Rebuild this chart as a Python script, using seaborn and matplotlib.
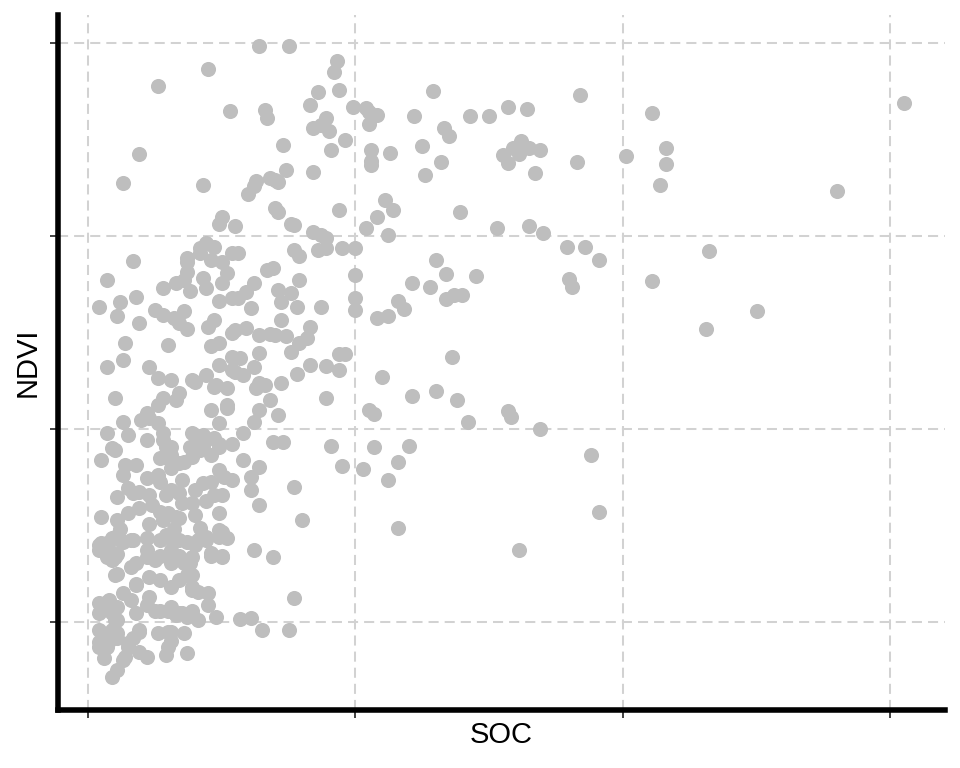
#import the libraries
import matplotlib
matplotlib.use("Agg")
import matplotlib.pyplot as plt
import seaborn as sns
import pandas as pd

#values (SOC on x, NDVI on y)
soc = [
    #sparse points on the right and middle
    3.05, 2.80, 2.50, 2.31, 2.32, 2.11, 2.11, 2.16, 2.16, 2.14, 2.01, 1.84, 1.83, 1.79, 1.86, 1.91, 1.80, 1.81, 1.88, 1.91,
    1.61, 1.69, 1.57, 1.58, 1.42, 1.38, 1.30, 1.36, 1.21, 1.20, 1.16, 1.12, 1.16, 1.03, 1.07, 1.05, 1.07, 1.10, 0.95, 0.91,
    0.89, 0.94, 0.96, 0.94, 0.89, 0.78, 0.77, 0.80, 0.77, 0.75, 0.65, 0.61, 0.57, 0.69, 0.62,
    #upper middle
    0.93, 0.92, 0.94, 0.86, 0.99, 1.04, 1.05, 1.08, 1.05, 0.89, 0.87, 0.84, 0.90, 0.83, 0.96, 0.91, 1.06, 1.13, 1.06, 1.06,
    1.22, 1.29, 1.33, 1.35, 1.25, 1.32, 1.26, 1.43, 1.50, 1.57, 1.64, 1.55, 1.59, 1.61, 1.62, 1.65, 1.69, 1.57, 1.67, 1.39,
    1.53, 1.65, 1.70, 1.45, 1.40, 1.37, 1.34, 1.30, 1.28, 1.34, 1.21, 1.16, 1.18, 1.12, 1.08, 1.00, 1.00, 1.00, 1.12, 1.04,
    1.08, 1.14, 1.11, 0.94, 0.87, 0.89, 0.84, 1.00, 0.95, 0.89, 0.86, 0.79, 0.77, 0.84, 0.74, 0.73, 0.66, 0.67, 0.64, 0.75,
    0.45, 0.26, 0.19, 0.13, 0.43, 0.53, 0.70, 0.68, 0.62, 0.60, 0.70, 0.71, 0.77, 0.76, 0.50, 0.55, 0.79, 0.87, 0.83, 0.74,
    0.76, 0.70, 0.68, 0.63, 0.71, 0.42, 0.37,
    #dense block, upper part
    0.17, 0.07, 0.04, 0.12, 0.11, 0.18, 0.19, 0.14, 0.13, 0.07, 0.23, 0.26, 0.31, 0.30, 0.25, 0.28, 0.32, 0.34, 0.37, 0.36,
    0.28, 0.33, 0.36, 0.38, 0.37, 0.37, 0.42, 0.44, 0.47, 0.46, 0.50, 0.54, 0.52, 0.43, 0.44, 0.50, 0.49, 0.54, 0.47, 0.45,
    0.46, 0.49, 0.54, 0.49, 0.54, 0.44, 0.40, 0.48, 0.54, 0.49,
    #dense block, around the 0.4-0.6 band
    0.67, 0.69, 0.56, 0.62, 0.59, 0.56, 0.61, 0.71, 0.72, 0.76, 0.78, 0.72, 0.79, 0.82, 0.83, 0.55, 0.59, 0.64, 0.64, 0.62,
    0.57, 0.55, 0.58, 0.64, 0.66, 0.72, 0.63, 0.68, 0.64, 0.62, 0.71, 0.52, 0.52, 0.49, 0.46, 0.47, 0.39, 0.34, 0.33, 0.22,
    0.20, 0.26, 0.28, 0.10, 0.13, 0.15, 0.07, 0.10, 0.28, 0.31, 0.39, 0.41, 0.42, 0.44, 0.49, 0.58, 0.69, 0.73,
    #dense block, middle
    0.05, 0.14, 0.18, 0.13, 0.22, 0.26, 0.15, 0.11, 0.19, 0.23, 0.19, 0.24, 0.27, 0.05, 0.11, 0.15, 0.12, 0.22, 0.23, 0.26,
    0.28, 0.29, 0.27, 0.31, 0.35, 0.31, 0.29, 0.34, 0.30, 0.28, 0.35, 0.39, 0.40, 0.43, 0.46, 0.49, 0.51, 0.47, 0.50, 0.44,
    0.49, 0.50, 0.33, 0.34, 0.36, 0.39, 0.38, 0.40, 0.43, 0.47, 0.52, 0.46, 0.49, 0.43, 0.54, 0.54,
    #dense block, bottom
    0.64, 0.61, 0.58, 0.64, 0.61, 0.49, 0.52, 0.50, 0.46, 0.44, 0.41, 0.37, 0.45, 0.48, 0.37, 0.29, 0.22, 0.36, 0.31, 0.26,
    0.35, 0.31, 0.27, 0.39, 0.34, 0.39, 0.38, 0.34, 0.31, 0.27, 0.23, 0.18, 0.16, 0.18, 0.22, 0.27, 0.27, 0.22, 0.31, 0.23,
    0.19, 0.17, 0.15, 0.13, 0.11, 0.09, 0.04, 0.06, 0.04, 0.04, 0.06, 0.08, 0.11, 0.10, 0.11, 0.08, 0.05, 0.04, 0.08, 0.07,
    0.10, 0.12, 0.16, 0.09, 0.11, 0.17, 0.09, 0.23, 0.27, 0.31, 0.30, 0.40, 0.34, 0.32, 0.30, 0.34, 0.42, 0.45, 0.41, 0.39,
    0.41, 0.37, 0.34, 0.31, 0.30, 0.19, 0.06, 0.04, 0.07,
    #bottom-left corner, extra overlapping points
    0.04, 0.07, 0.10, 0.13, 0.09, 0.11, 0.17, 0.22, 0.25, 0.29, 0.31, 0.36, 0.39, 0.37, 0.39, 0.40, 0.44, 0.49, 0.46, 0.50,
    0.10, 0.18, 0.13, 0.04, 0.07, 0.09, 0.11, 0.16, 0.18, 0.22, 0.25, 0.30, 0.33, 0.09, 0.11, 0.19, 0.30, 0.15, 0.14,
]
ndvi = [
    0.738, 0.647, 0.522, 0.504, 0.585, 0.553, 0.727, 0.691, 0.675, 0.653, 0.683, 0.746, 0.677, 0.589, 0.589, 0.575, 0.556, 0.547, 0.373, 0.314,
    0.275, 0.400, 0.419, 0.413, 0.407, 0.430, 0.439, 0.475, 0.434, 0.383, 0.366, 0.347, 0.298, 0.359, 0.381, 0.420, 0.416, 0.454, 0.362, 0.383,
    0.432, 0.461, 0.478, 0.478, 0.465, 0.457, 0.340, 0.306, 0.225, 0.192, 0.192, 0.204, 0.203, 0.267, 0.275,
    0.781, 0.770, 0.751, 0.749, 0.734, 0.733, 0.728, 0.725, 0.716, 0.722, 0.715, 0.712, 0.709, 0.736, 0.700, 0.689, 0.689, 0.686, 0.678, 0.674,
    0.724, 0.750, 0.712, 0.704, 0.693, 0.677, 0.663, 0.724, 0.724, 0.734, 0.732, 0.684, 0.691, 0.685, 0.698, 0.691, 0.689, 0.676, 0.665, 0.625,
    0.608, 0.610, 0.603, 0.559, 0.539, 0.539, 0.535, 0.575, 0.547, 0.561, 0.551, 0.533, 0.524, 0.517, 0.515, 0.536, 0.523, 0.560, 0.601, 0.608,
    0.620, 0.627, 0.637, 0.627, 0.601, 0.598, 0.604, 0.588, 0.588, 0.588, 0.586, 0.579, 0.586, 0.666, 0.668, 0.694, 0.731, 0.722, 0.797, 0.797,
    0.773, 0.755, 0.685, 0.655, 0.653, 0.730, 0.658, 0.660, 0.652, 0.644, 0.629, 0.625, 0.611, 0.612, 0.620, 0.610, 0.554, 0.527, 0.506, 0.496,
    0.480, 0.498, 0.499, 0.657, 0.656, 0.588, 0.577,
    0.574, 0.554, 0.527, 0.532, 0.517, 0.537, 0.510, 0.489, 0.472, 0.464, 0.464, 0.453, 0.451, 0.487, 0.523, 0.518, 0.515, 0.510, 0.504, 0.522,
    0.546, 0.551, 0.554, 0.543, 0.563, 0.573, 0.582, 0.593, 0.589, 0.575, 0.573, 0.582, 0.562, 0.557, 0.546, 0.551, 0.533, 0.536, 0.513, 0.506,
    0.486, 0.489, 0.500, 0.466, 0.461, 0.456, 0.449, 0.446, 0.475, 0.612,
    0.565, 0.567, 0.582, 0.551, 0.542, 0.536, 0.525, 0.544, 0.532, 0.541, 0.526, 0.513, 0.489, 0.494, 0.466, 0.503, 0.505, 0.497, 0.479, 0.464,
    0.474, 0.459, 0.456, 0.448, 0.446, 0.448, 0.443, 0.430, 0.420, 0.407, 0.415, 0.443, 0.425, 0.406, 0.420, 0.444, 0.451, 0.437, 0.430, 0.417,
    0.409, 0.425, 0.432, 0.432, 0.407, 0.394, 0.396, 0.378, 0.389, 0.381, 0.396, 0.389, 0.378, 0.389, 0.385, 0.396, 0.387, 0.387,
    0.368, 0.363, 0.363, 0.352, 0.349, 0.352, 0.339, 0.330, 0.335, 0.332, 0.318, 0.321, 0.314, 0.309, 0.306, 0.313, 0.297, 0.389, 0.412, 0.406,
    0.396, 0.381, 0.370, 0.360, 0.347, 0.337, 0.332, 0.334, 0.313, 0.306, 0.323, 0.323, 0.337, 0.344, 0.345, 0.358, 0.350, 0.332, 0.332, 0.326,
    0.313, 0.293, 0.309, 0.365, 0.366, 0.371, 0.381, 0.394, 0.394, 0.391, 0.422, 0.373, 0.381, 0.381, 0.385, 0.347,
    0.361, 0.350, 0.368, 0.321, 0.337, 0.295, 0.287, 0.267, 0.269, 0.288, 0.285, 0.283, 0.218, 0.205, 0.168, 0.166, 0.164, 0.189, 0.190, 0.189,
    0.210, 0.216, 0.212, 0.233, 0.244, 0.249, 0.261, 0.269, 0.236, 0.244, 0.226, 0.238, 0.257, 0.261, 0.267, 0.269, 0.285, 0.287, 0.275, 0.247,
    0.190, 0.184, 0.174, 0.161, 0.150, 0.143, 0.174, 0.163, 0.192, 0.209, 0.219, 0.223, 0.216, 0.202, 0.189, 0.181, 0.282, 0.275, 0.275, 0.267,
    0.267, 0.285, 0.285, 0.287, 0.250, 0.334, 0.380, 0.302, 0.345, 0.373, 0.370, 0.311, 0.308, 0.297, 0.288, 0.285, 0.298, 0.230, 0.231, 0.212,
    0.202, 0.205, 0.209, 0.181, 0.174, 0.169, 0.184, 0.179, 0.174,
    0.280, 0.282, 0.288, 0.283, 0.264, 0.271, 0.285, 0.275, 0.264, 0.290, 0.261, 0.261, 0.267, 0.249, 0.236, 0.280, 0.285, 0.288, 0.272, 0.269,
    0.249, 0.240, 0.230, 0.220, 0.221, 0.210, 0.202, 0.223, 0.210, 0.218, 0.212, 0.212, 0.207, 0.192, 0.184, 0.192, 0.190, 0.178, 0.164,
]

df = pd.DataFrame({"SOC": soc, "NDVI": ndvi})

fig = plt.figure(figsize=(9.6, 7.68), dpi=100)
ax = fig.add_axes([58/960, 58/768, 887/960, 695/768])

#dashed grid under the points
ax.set_axisbelow(True)
ax.grid(True, linestyle=(0, (5, 3)), color="#d2d2d2", linewidth=1.45)

sns.scatterplot(data=df, x="SOC", y="NDVI", color="#bebebe", s=118, linewidth=0, alpha=1, ax=ax, zorder=3)

ax.set_xlim(-0.112, 3.204)
ax.set_ylim(0.109, 0.829)
ax.set_xticks([0, 1, 2, 3])
ax.set_yticks([0.2, 0.4, 0.6, 0.8])
ax.set_xticklabels([])
ax.set_yticklabels([])
ax.tick_params(length=6, width=1.3, color="#333333", direction="out")

for side in ["top", "right"]:
    ax.spines[side].set_visible(False)
for side in ["left", "bottom"]:
    ax.spines[side].set_linewidth(4)
    ax.spines[side].set_color("black")

ax.set_xlabel("SOC", fontsize=21, family="Liberation Sans", va="center")
ax.set_ylabel("NDVI", fontsize=21, family="Liberation Sans", va="center")
ax.xaxis.set_label_coords(0.5, -0.036)
ax.yaxis.set_label_coords(-0.034, 0.5)

fig.savefig("out.png", dpi=100)
